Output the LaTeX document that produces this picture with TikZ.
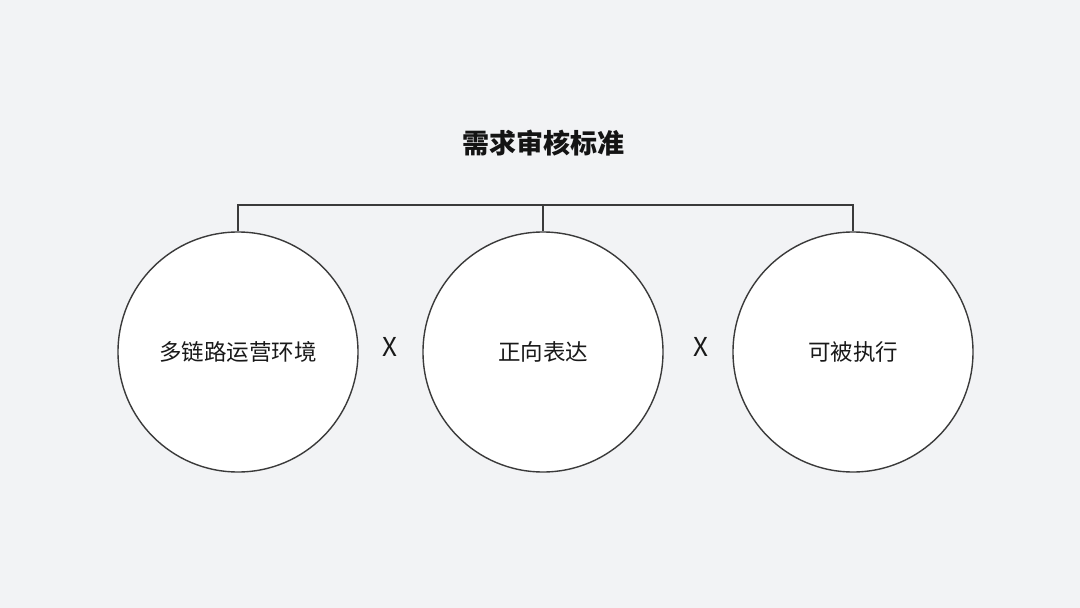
\documentclass[tikz,border=0pt]{standalone}
\usepackage{fontspec}
\setmainfont{Noto Sans CJK SC}
\definecolor{bg}{HTML}{F2F3F5}
\definecolor{ln}{HTML}{3A3A3A}
\begin{document}
\begin{tikzpicture}[x=1pt,y=-1pt,
  circ/.style={circle,draw=ln,line width=1.4pt,fill=white,minimum size=240pt,inner sep=0pt,font=\fontsize{22.5}{26}\selectfont,text=black!90},
  conn/.style={draw=ln,line width=1.4pt},
  times/.style={font=\fontsize{26}{28}\selectfont,text=black!90}]
\fill[bg] (0,0) rectangle (1080,608);
\useasboundingbox (0,0) rectangle (1080,608);
\node[font=\fontsize{27}{30}\selectfont\bfseries,text=black!92] (title) at (543,143) {需求审核标准};
\node[circ] (c1) at (238,352) {多链路运营环境};
\node[circ] (c2) at (543,352) {正向表达};
\node[circ] (c3) at (853,352) {可被执行};
\node[times] (x1) at (390,347) {X};
\node[times] (x2) at (701,347) {X};
\coordinate (b1) at (238,205);
\coordinate (b2) at (543,205);
\coordinate (b3) at (853,205);
\draw[conn] (c1.north) -- (b1) -- (b3) -- (c3.north);
\draw[conn] (b2) -- (c2.north);
\end{tikzpicture}
\end{document}
